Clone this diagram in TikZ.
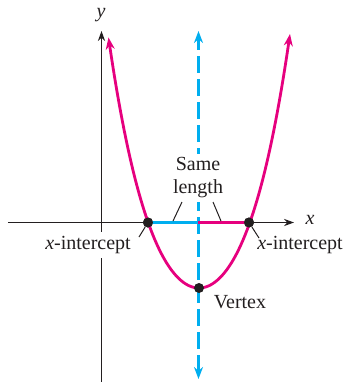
\documentclass[tikz,border=0pt]{standalone}
\usepackage{fontspec}
\setmainfont{Liberation Serif}
\usetikzlibrary{arrows.meta}
\definecolor{pinkc}{RGB}{230,0,126}
\definecolor{bluec}{RGB}{0,174,239}
\definecolor{ink}{RGB}{35,31,32}
\begin{document}
\begin{tikzpicture}[x=0.5pt,y=-0.5pt,
  axis/.style={draw=ink,line width=0.65pt,-{Stealth[length=5pt,width=3.6pt]}},
  curve/.style={draw=pinkc,line width=1.4pt,{Stealth[length=6pt,width=4.5pt]}-{Stealth[length=6pt,width=4.5pt]}},
  symline/.style={draw=bluec,line width=1.4pt,dash pattern=on 8.5pt off 3pt,{Stealth[length=6pt,width=4.5pt]}-{Stealth[length=6pt,width=4.5pt]}},
  seg/.style={line width=1.4pt},
  dot/.style={circle,fill=ink,inner sep=0pt,minimum size=5pt},
  lbl/.style={font=\fontsize{10}{11.5}\selectfont,text=ink,inner sep=1pt},
  leader/.style={draw=ink,line width=0.5pt}]
\useasboundingbox (0,0) rectangle (347,382);
% axes
\coordinate (ybot) at (101.5,382);
\coordinate (ytop) at (101.5,31);
\coordinate (xleft) at (8,222.5);
\coordinate (xright) at (294,222.5);
\draw[axis] (ybot) -- (ytop);
\draw[axis] (xleft) -- (xright);
\node[lbl] (ylab) at (101,15) {\textit{y}};
\node[lbl] (xlab) at (310,220) {\textit{x}};
% symmetry axis
\coordinate (sbot) at (198.5,379);
\coordinate (stop) at (198.5,31);
\draw[symline] (sbot) -- (stop);
% segments on x-axis
\coordinate (mid) at (198.5,222.5);
\node[dot] (li) at (148,222.5) {};
\node[dot] (ri) at (249,222.5) {};
\draw[seg,bluec] (li.center) -- (mid);
\draw[seg,pinkc] (mid) -- (ri.center);
% parabola
\draw[curve] plot[domain=-90.5:91,samples=120,smooth]
  ({199+\x},{288-229.5*(\x/100)^2-93.3*(\x/100)^4});
\node[dot] (vx) at (199,288) {};
\node[dot] at (li) {};
\node[dot] at (ri) {};
% labels
\node[lbl,fill=white,align=center,inner sep=2pt] (same) at (198,178) {Same\\length};
\node[lbl,fill=white,inner sep=2pt] (lil) at (88,245) {\textit{x}-intercept};
\node[lbl] (ril) at (300,245) {\textit{x}-intercept};
\node[lbl] (vl) at (240,302) {Vertex};
% leaders
\coordinate (s1a) at (182,202);
\coordinate (s1b) at (173,221);
\coordinate (s2a) at (213,202);
\coordinate (s2b) at (221,221);
\draw[leader] (s1a) -- (s1b);
\draw[leader] (s2a) -- (s2b);
\coordinate (l1) at (139,237);
\coordinate (r1) at (259,238);
\draw[leader] (li) -- (l1);
\draw[leader] (ri) -- (r1);
\end{tikzpicture}
\end{document}
